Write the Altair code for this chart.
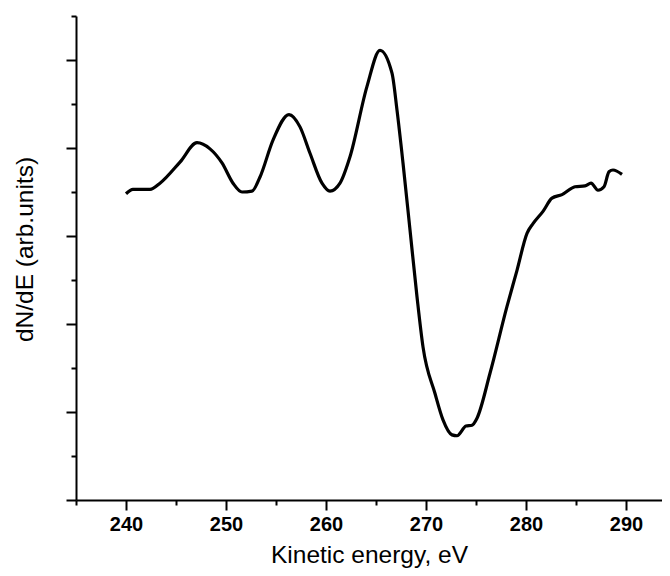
import altair as alt
import pandas as pd

energy = [240.0, 240.7, 242.4, 243.4, 245.4, 247.1, 248.4, 249.6, 250.7, 251.6,
          252.6, 253.4, 254.7, 256.3, 257.4, 258.4, 259.6, 260.4, 261.4, 262.4,
          264.1, 265.4, 266.6, 267.1, 267.7, 268.4, 269.1, 269.7, 270.9, 271.7,
          272.6, 273.1, 274.0, 274.6, 275.1, 276.4, 278.1, 279.1, 280.1, 280.7,
          281.7, 282.6, 283.6, 284.9, 285.9, 286.5, 287.2, 287.8, 288.3, 288.7,
          289.6]
dnde = [3.48, 3.53, 3.53, 3.60, 3.84, 4.06, 3.99, 3.83, 3.60, 3.50,
        3.51, 3.67, 4.09, 4.38, 4.24, 3.94, 3.60, 3.51, 3.60, 3.90,
        4.70, 5.11, 4.85, 4.43, 3.83, 3.07, 2.31, 1.74, 1.21, 0.91,
        0.74, 0.73, 0.84, 0.85, 0.93, 1.44, 2.20, 2.61, 3.03, 3.14,
        3.28, 3.43, 3.47, 3.56, 3.57, 3.60, 3.52, 3.56, 3.73, 3.75,
        3.70]

x_ticks = [235, 240, 245, 250, 255, 260, 265, 270, 275, 280, 285, 290]
y_ticks = [0, 0.5, 1, 1.5, 2, 2.5, 3, 3.5, 4, 4.5, 5, 5.5]

df = pd.DataFrame({"E": energy, "v": dnde})

font = "Liberation Sans"

chart = alt.Chart(df).mark_line(
    color="black", strokeWidth=3.2, interpolate="monotone"
).encode(
    x=alt.X(
        "E:Q",
        scale=alt.Scale(domain=[235, 293.6], nice=False, zero=False),
        axis=alt.Axis(
            values=x_ticks,
            title="Kinetic energy, eV",
            labelExpr="datum.value % 10 === 0 ? datum.label : ''",
            tickSize={"condition": {"test": "datum.value % 10 === 0", "value": 10}, "value": 5},
            labelPadding=4,
            labelFontWeight="bold",
            titlePadding=9,
        ),
    ),
    y=alt.Y(
        "v:Q",
        scale=alt.Scale(domain=[0, 5.5], nice=False, zero=False),
        axis=alt.Axis(
            values=y_ticks,
            title="dN/dE (arb.units)",
            labels=False,
            tickSize={"condition": {"test": "datum.value % 1 === 0", "value": 10}, "value": 5},
            titlePadding=28,
            titleY=233,
        ),
    ),
).properties(
    width=586,
    height=484,
    autosize=alt.AutoSizeParams(type="none"),
    padding={"left": 68, "top": 8, "right": 0, "bottom": 68},
).configure_view(
    stroke=None
).configure_axis(
    grid=False,
    domainColor="black",
    domainWidth=2,
    tickColor="black",
    tickWidth=2,
    labelFont=font,
    labelFontSize=20,
    labelColor="black",
    titleFont=font,
    titleFontSize=24.5,
    titleFontWeight="normal",
    titleColor="black",
)

chart.save("out.html", embed_options={"renderer": "svg", "actions": False})
